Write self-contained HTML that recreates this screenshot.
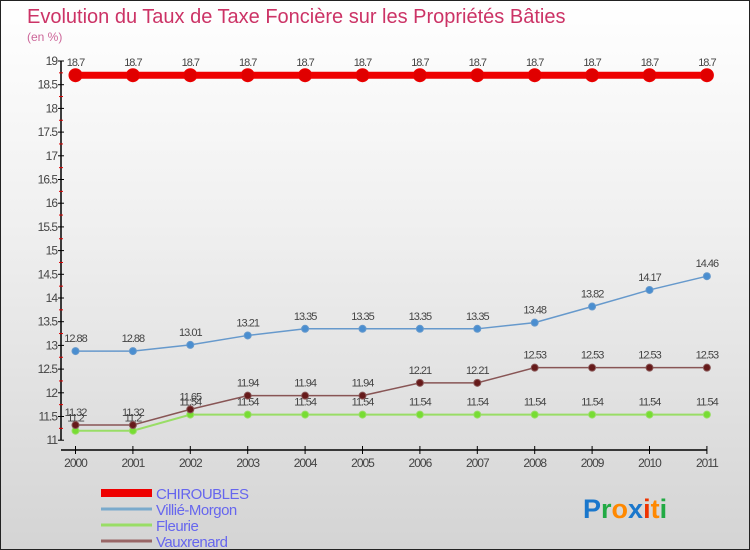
<!DOCTYPE html>
<html><head><meta charset="utf-8"><style>
html,body{margin:0;padding:0}
body{width:750px;height:550px;overflow:hidden;font-family:"Liberation Sans",sans-serif}
#wrap{position:relative;width:748px;height:548px;border:1px solid #222;background:linear-gradient(#fff 0%,#f0f0f0 40%,#d4d4d4 100%)}
</style></head><body>
<div id="wrap">
<svg id="chart" width="748" height="548" style="position:absolute;left:0;top:0"></svg>
</div>
<script>
const years=["2000","2001","2002","2003","2004","2005","2006","2007","2008","2009","2010","2011"];
const chiroubles=[18.7,18.7,18.7,18.7,18.7,18.7,18.7,18.7,18.7,18.7,18.7,18.7];
const villie=[12.88,12.88,13.01,13.21,13.35,13.35,13.35,13.35,13.48,13.82,14.17,14.46];
const fleurie=[11.2,11.2,11.54,11.54,11.54,11.54,11.54,11.54,11.54,11.54,11.54,11.54];
const vaux=[11.32,11.32,11.65,11.94,11.94,11.94,12.21,12.21,12.53,12.53,12.53,12.53];
const yTicks=["11","11.5","12","12.5","13","13.5","14","14.5","15","15.5","16","16.5","17","17.5","18","18.5","19"];
const NS="http://www.w3.org/2000/svg";
const svg=document.getElementById('chart');
const xs=i=>74.5+i*57.4;
const ys=v=>60+(19-v)*47.4;
function mk(t,a,p){const e=document.createElementNS(NS,t);for(const k in a)e.setAttribute(k,a[k]);(p||svg).appendChild(e);return e;}
// title
let t=mk('text',{x:26,y:22,'font-size':20,fill:'#cc3366'});t.textContent="Evolution du Taux de Taxe Foncière sur les Propriétés Bâties";


t=mk('text',{x:26,y:40,'font-size':12,fill:'#cc6699'});t.textContent="(en %)";


// y axis
let ax=mk('line',{x1:60,y1:ys(19),x2:60,y2:ys(11),stroke:'#000','stroke-width':1.5});


yTicks.forEach(s=>{const v=parseFloat(s);const y=ys(v);
 mk('line',{x1:57,y1:y,x2:63,y2:y,stroke:'#000'});
 const l=mk('text',{x:56,y:y+4,'font-size':12,'text-anchor':'end',fill:'#444','letter-spacing':'-1'});l.textContent=s;
 
 
 if(v<19){mk('line',{x1:58,y1:ys(v+0.25),x2:62,y2:ys(v+0.25),stroke:'#d00'});}
});
// x axis
ax=mk('line',{x1:60,y1:449,x2:706,y2:449,stroke:'#000','stroke-width':1.5});


years.forEach((y,i)=>{mk('line',{x1:xs(i),y1:445,x2:xs(i),y2:453,stroke:'#000'});
 const l=mk('text',{x:xs(i),y:466,'font-size':12,'text-anchor':'middle',fill:'#444','letter-spacing':'-1'});l.textContent=y;
 
 });
function series(vals,color,w,r,dot,name,labels){
 const g=mk('g',{});
 
 
 mk('polyline',{points:vals.map((v,i)=>xs(i)+','+ys(v)).join(' '),fill:'none',stroke:color,'stroke-width':w},g);
 vals.forEach((v,i)=>{const c=mk('circle',{cx:xs(i),cy:ys(v),r:r,fill:dot,stroke:color,'stroke-width':1},g);
  
  
  if(labels){const l=mk('text',{x:xs(i),y:ys(v)-9,'font-size':11,'text-anchor':'middle',fill:'#444','letter-spacing':'-1'},g);l.textContent=String(v);
  
  }});
}
series(fleurie,'#99dd66',2,3.5,'#77dd33','fleurie',true);
series(vaux,'#885555',1.5,3.5,'#661a1a','vauxrenard',true);
series(villie,'#6699cc',1.5,3.5,'#4a8ed0','villie-morgon',true);
series(chiroubles,'#ee0000',7,6.5,'#e00000','chiroubles',true);
// legend
const leg=[["CHIROUBLES","#ee0000",8],["Villié-Morgon","#7aaacc",3],["Fleurie","#99dd66",3],["Vauxrenard","#996666",3]];
leg.forEach((d,i)=>{const y=492+i*16;
 const g=mk('g',{});
 
 
 mk('line',{x1:100,y1:y,x2:151,y2:y,stroke:d[1],'stroke-width':d[2]},g);
 const l=mk('text',{x:155,y:y+6,'font-size':15,fill:'#6666ee','letter-spacing':'-0.5'},g);l.textContent=d[0];});
// logo
const lg=mk('text',{x:582,y:517,'font-size':27,'font-weight':'bold','font-family':'Liberation Sans'});


[["P","#1a77cc"],["r","#22aa44"],["o","#ff8800"],["x","#1a77cc"],["i","#ee3300"],["t","#ff8800"],["i","#22aa44"]].forEach(c=>{const s=mk('tspan',{fill:c[1]},lg);s.textContent=c[0];});
</script>
</body></html>
